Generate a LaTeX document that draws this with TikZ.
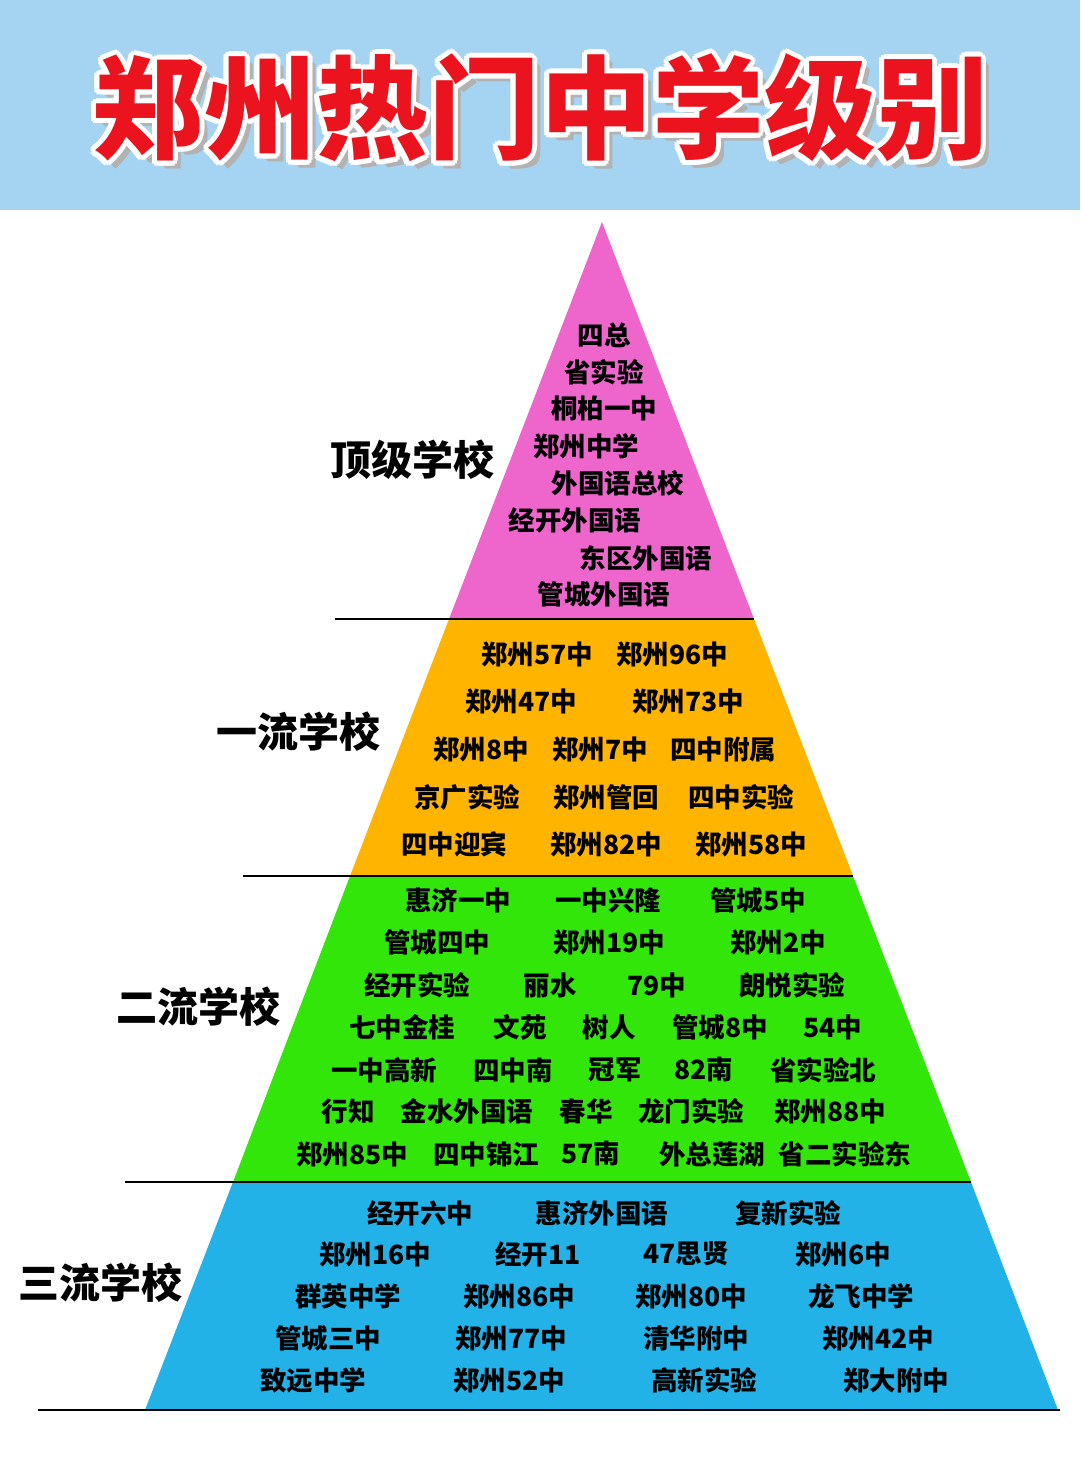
\documentclass[tikz,border=0pt]{standalone}
\usepackage{fontspec}
\setmainfont{Noto Sans CJK SC}
\definecolor{hdr}{RGB}{165,212,242}
\definecolor{ttl}{RGB}{235,20,30}
\definecolor{cpink}{RGB}{238,102,204}
\definecolor{corange}{RGB}{255,180,0}
\definecolor{cgreen}{RGB}{50,230,10}
\definecolor{cblue}{RGB}{34,178,232}
\begin{document}
\begin{tikzpicture}[x=1pt,y=-1pt,
  sch/.style={font=\fontsize{26.5}{26.5}\selectfont\bfseries,inner sep=0pt},
  lvl/.style={font=\fontsize{41}{41}\selectfont\bfseries,inner sep=0pt},
  sep/.style={line width=1.3pt}]
\useasboundingbox (0,0) rectangle (1080,1483);
\fill[white] (0,0) rectangle (1080,1483);
\fill[hdr] (0,0) rectangle (1080,210);
\foreach \dx/\dy in {6/6,7/7,8/8} \node[font=\fontsize{112}{112}\selectfont\bfseries,text=gray!60] at (540+\dx,108+\dy) {郑州热门中学级别};
\foreach \a in {0,30,...,330} \node[font=\fontsize{112}{112}\selectfont\bfseries,text=white] at ({540+5*cos(\a)},{108+5*sin(\a)}) {郑州热门中学级别};
\node[font=\fontsize{112}{112}\selectfont\bfseries,text=ttl] (title) at (540,108) {郑州热门中学级别};
\coordinate (A) at (602,222);
\fill[cpink] (A) -- (754,619) -- (449,619) -- cycle;
\fill[corange] (449,619) -- (754,619) -- (853,876) -- (350,876) -- cycle;
\fill[cgreen] (350,876) -- (853,876) -- (971,1182) -- (233,1182) -- cycle;
\fill[cblue] (233,1182) -- (971,1182) -- (1058,1410) -- (145,1410) -- cycle;
\draw[sep] (335,619) -- (754,619);
\draw[sep] (243,876) -- (853,876);
\draw[sep] (125,1182) -- (971,1182);
\draw[sep] (38,1410) -- (1060,1410);
\node[lvl] (l1) at (412,460) {顶级学校};
\node[lvl] (l2) at (298,732) {一流学校};
\node[lvl] (l3) at (198,1007) {二流学校};
\node[lvl] (l4) at (100,1283) {三流学校};
\foreach \t/\x/\y in {四总/604/335,省实验/604/372,桐柏一中/604/408,郑州中学/586/446,外国语总校/618/483,经开外国语/575/520,东区外国语/646/558,管城外国语/604/594,
郑州57中/537/654,郑州96中/672/654,郑州47中/521/701,郑州73中/688/701,郑州8中/481/749,郑州7中/600/749,四中附属/723/749,京广实验/467/797,郑州管回/606/797,四中实验/741/797,四中迎宾/454/844,郑州82中/606/844,郑州58中/751/844,
惠济一中/458/900,一中兴隆/608/900,管城5中/758/900,管城四中/437/942,郑州19中/609/942,郑州2中/778/942,经开实验/417/985,丽水/550/985,79中/657/985,朗悦实验/792/985,七中金桂/402/1027,文苑/520/1027,树人/609/1027,管城8中/720/1027,54中/833/1027,一中高新/384/1070,四中南/513/1070,冠军/615/1070,82南/704/1070,省实验北/823/1070,行知/348/1111,金水外国语/467/1111,春华/586/1111,龙门实验/691/1111,郑州88中/830/1111,郑州85中/352/1154,四中锦江/486/1154,57南/591/1154,外总莲湖/712/1154,省二实验东/845/1154,
经开六中/420/1213,惠济外国语/602/1213,复新实验/788/1213,郑州16中/375/1254,经开11/538/1254,47思贤/686/1254,郑州6中/843/1254,群英中学/348/1296,郑州86中/519/1296,郑州80中/691/1296,龙飞中学/861/1296,管城三中/328/1338,郑州77中/511/1338,清华附中/696/1338,郑州42中/878/1338,致远中学/313/1380,郑州52中/509/1380,高新实验/704/1380,郑大附中/896/1380}
  \node[sch] at (\x,\y) {\t};
\end{tikzpicture}
\end{document}
